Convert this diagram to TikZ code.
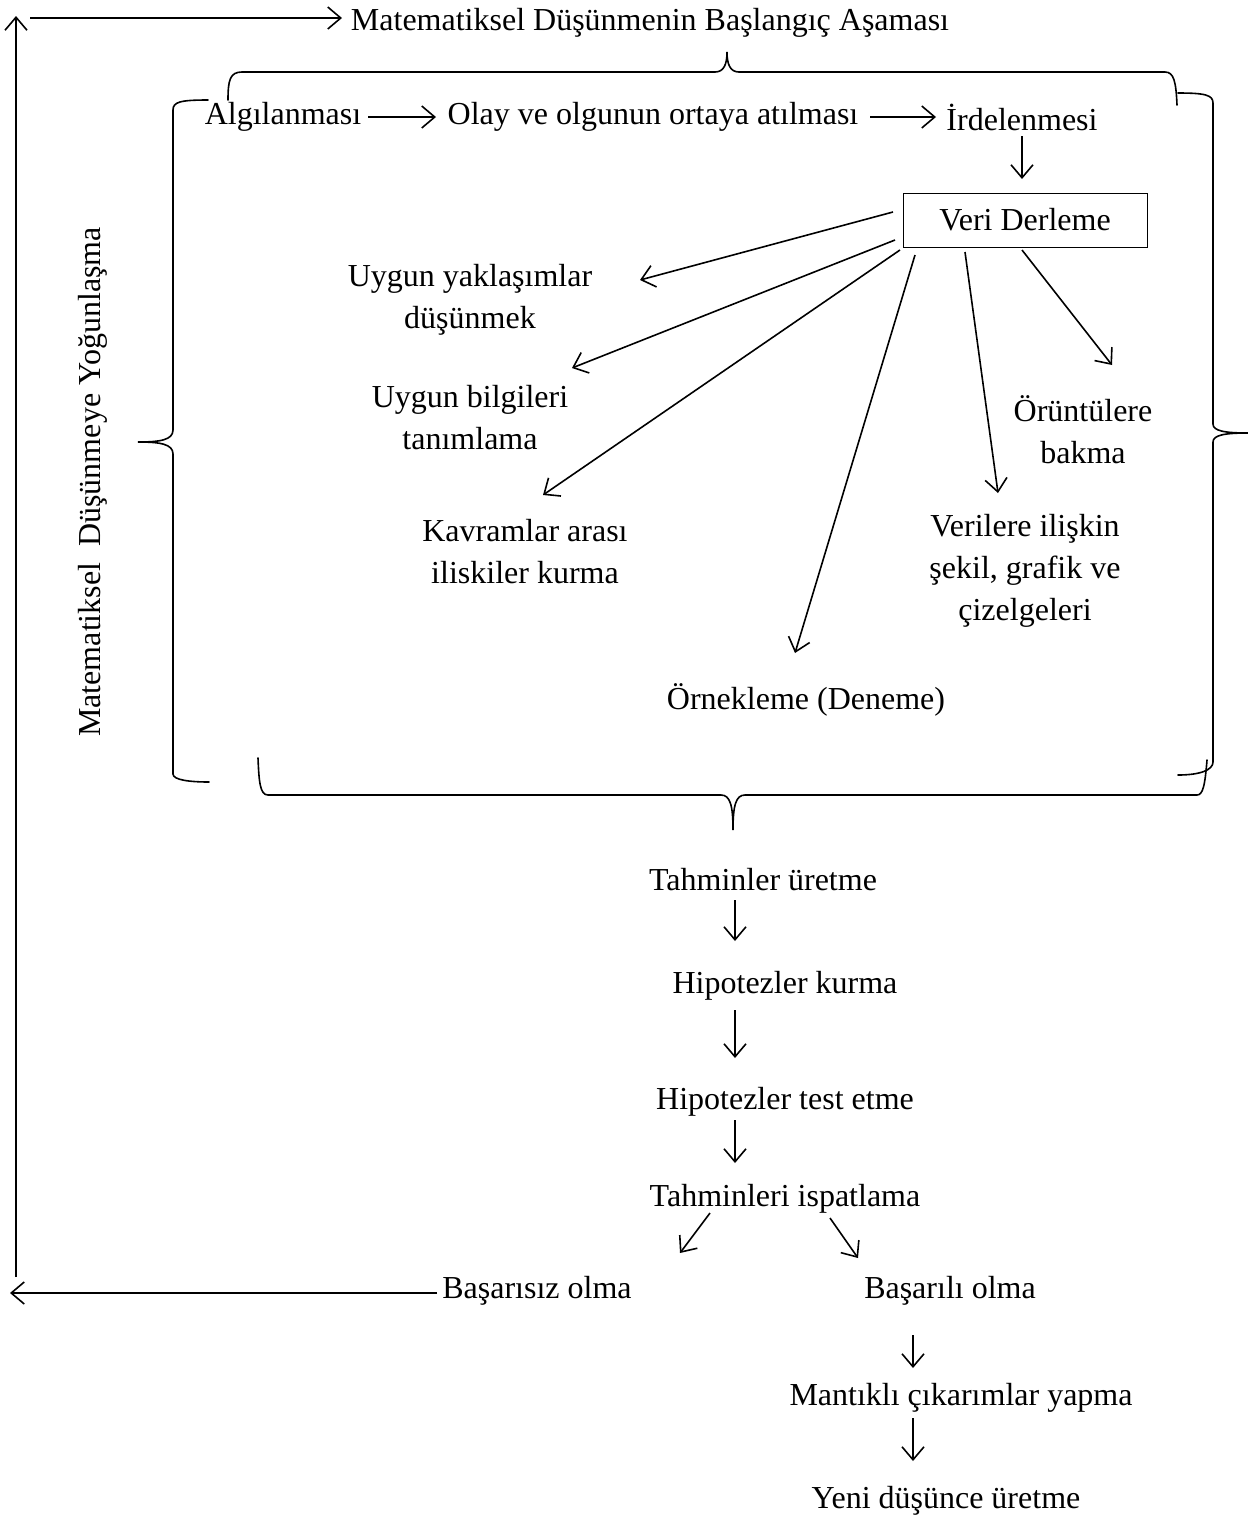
\documentclass[tikz,border=0pt]{standalone}
\usepackage{fontspec}
\setmainfont{Liberation Serif}
\usetikzlibrary{arrows.meta}
\begin{document}
\begin{tikzpicture}[x=1pt,y=-1pt,
  every node/.style={font=\fontsize{32}{42}\selectfont, inner sep=2pt},
  lbl/.style={align=center},
  arr/.style={line width=1.6pt,-{Straight Barb[length=13pt,width=22pt,line width=1.6pt]}},
  brc/.style={line width=1.6pt, line cap=round},
  boxed/.style={draw, line width=1pt, minimum width=244pt, minimum height=54pt}]
\useasboundingbox (0,0) rectangle (1248,1527);

% outer feedback loop
\node (top) at (650,23) {Matematiksel Düşünmenin Başlangıç Aşaması};
\coordinate (c1) at (16,1277);
\coordinate (c2) at (16,16);
\coordinate (c3) at (30,18);
\coordinate (c4) at (342,18);
\draw[arr] (c1) -- (c2);
\draw[arr] (c3) -- (c4);

% vertical label on the left
\node[rotate=90] (side) at (93,482) {Matematiksel\ \ Düşünmeye Yoğunlaşma};

% braces
\draw[brc] (228,100) .. controls (228,80) and (230,72) .. (242,72) -- (715,72)
  .. controls (724,72) and (727,64) .. (727,52)
  .. controls (727,64) and (730,72) .. (739,72) -- (1165,72)
  .. controls (1174,72) and (1176,82) .. (1177,105);
\draw[brc] (208,100) .. controls (180,100) and (173,102) .. (173,110) -- (173,430)
  .. controls (173,440) and (160,442) .. (138,442)
  .. controls (160,442) and (173,444) .. (173,454) -- (173,774)
  .. controls (173,780) and (190,782) .. (209,782);
\draw[brc] (1178,93) .. controls (1205,93) and (1213,95) .. (1213,103) -- (1213,424)
  .. controls (1213,431) and (1225,433) .. (1248,433)
  .. controls (1225,433) and (1213,435) .. (1213,442) -- (1213,762)
  .. controls (1213,770) and (1200,775) .. (1178,775);
\draw[brc] (258,758) .. controls (259,782) and (260,795) .. (268,795) -- (721,795)
  .. controls (730,795) and (733,805) .. (733,830)
  .. controls (733,805) and (736,795) .. (745,795) -- (1197,795)
  .. controls (1203,795) and (1205,785) .. (1207,760);

% first row
\node (alg) at (283,117) {Algılanması};
\node (olay) at (653,117) {Olay ve olgunun ortaya atılması};
\node (ird) at (1022,117) {İrdelenmesi};
\coordinate (a1) at (368,117); \coordinate (a2) at (436,117);
\coordinate (a3) at (870,117); \coordinate (a4) at (936,117);
\draw[arr] (a1) -- (a2);
\draw[arr] (a3) -- (a4);

\node[boxed] (veri) at (1025,220) {Veri Derleme};
\coordinate (v1) at (1022,136); \coordinate (v0) at (1022,179);
\draw[arr] (v1) -- (v0);

% data compilation branches
\node[lbl] (yak) at (470,300) {Uygun yaklaşımlar\\düşünmek};
\node[lbl] (bil) at (470,418) {Uygun bilgileri\\tanımlama};
\node[lbl] (kav) at (525,552) {Kavramlar arası\\iliskiler kurma};
\node (orn) at (806,700) {Örnekleme (Deneme)};
\node[lbl] (ver) at (1025,571) {Verilere ilişkin\\şekil, grafik ve\\çizelgeleri};
\node[lbl] (oru) at (1083,430) {Örüntülere\\bakma};

\coordinate (b1) at (640,280);
\coordinate (b2) at (572,368);
\coordinate (b3) at (543,495);
\coordinate (b4) at (795,653);
\coordinate (b5) at (998,493);
\coordinate (b6) at (1112,365);
\draw[arr] (893,212) -- (b1);
\draw[arr] (895,240) -- (b2);
\draw[arr] (900,250) -- (b3);
\draw[arr] (915,255) -- (b4);
\draw[arr] (965,252) -- (b5);
\draw[arr] (1022,250) -- (b6);

% hypothesis chain
\node (tah) at (763,880) {Tahminler üretme};
\node (hk) at (785,986) {Hipotezler kurma};
\node (ht) at (785,1102) {Hipotezler test etme};
\node (isp) at (785,1199) {Tahminleri ispatlama};
\node (bsz) at (537,1291) {Başarısız olma};
\node (bsl) at (950,1291) {Başarılı olma};
\node (man) at (961,1398) {Mantıklı çıkarımlar yapma};
\node (yeni) at (946,1501) {Yeni düşünce üretme};

\coordinate (h1) at (735,900); \coordinate (h2) at (735,941);
\coordinate (h3) at (735,1010); \coordinate (h4) at (735,1058);
\coordinate (h5) at (735,1120); \coordinate (h6) at (735,1163);
\draw[arr] (h1) -- (h2);
\draw[arr] (h3) -- (h4);
\draw[arr] (h5) -- (h6);
\coordinate (s1) at (710,1213); \coordinate (s2) at (680,1253);
\coordinate (s3) at (830,1218); \coordinate (s4) at (858,1258);
\draw[arr] (s1) -- (s2);
\draw[arr] (s3) -- (s4);
\coordinate (f1) at (437,1293); \coordinate (f2) at (10,1293);
\draw[arr] (f1) -- (f2);
\coordinate (m1) at (913,1335); \coordinate (m2) at (913,1368);
\coordinate (m3) at (913,1418); \coordinate (m4) at (913,1461);
\draw[arr] (m1) -- (m2);
\draw[arr] (m3) -- (m4);
\end{tikzpicture}
\end{document}
